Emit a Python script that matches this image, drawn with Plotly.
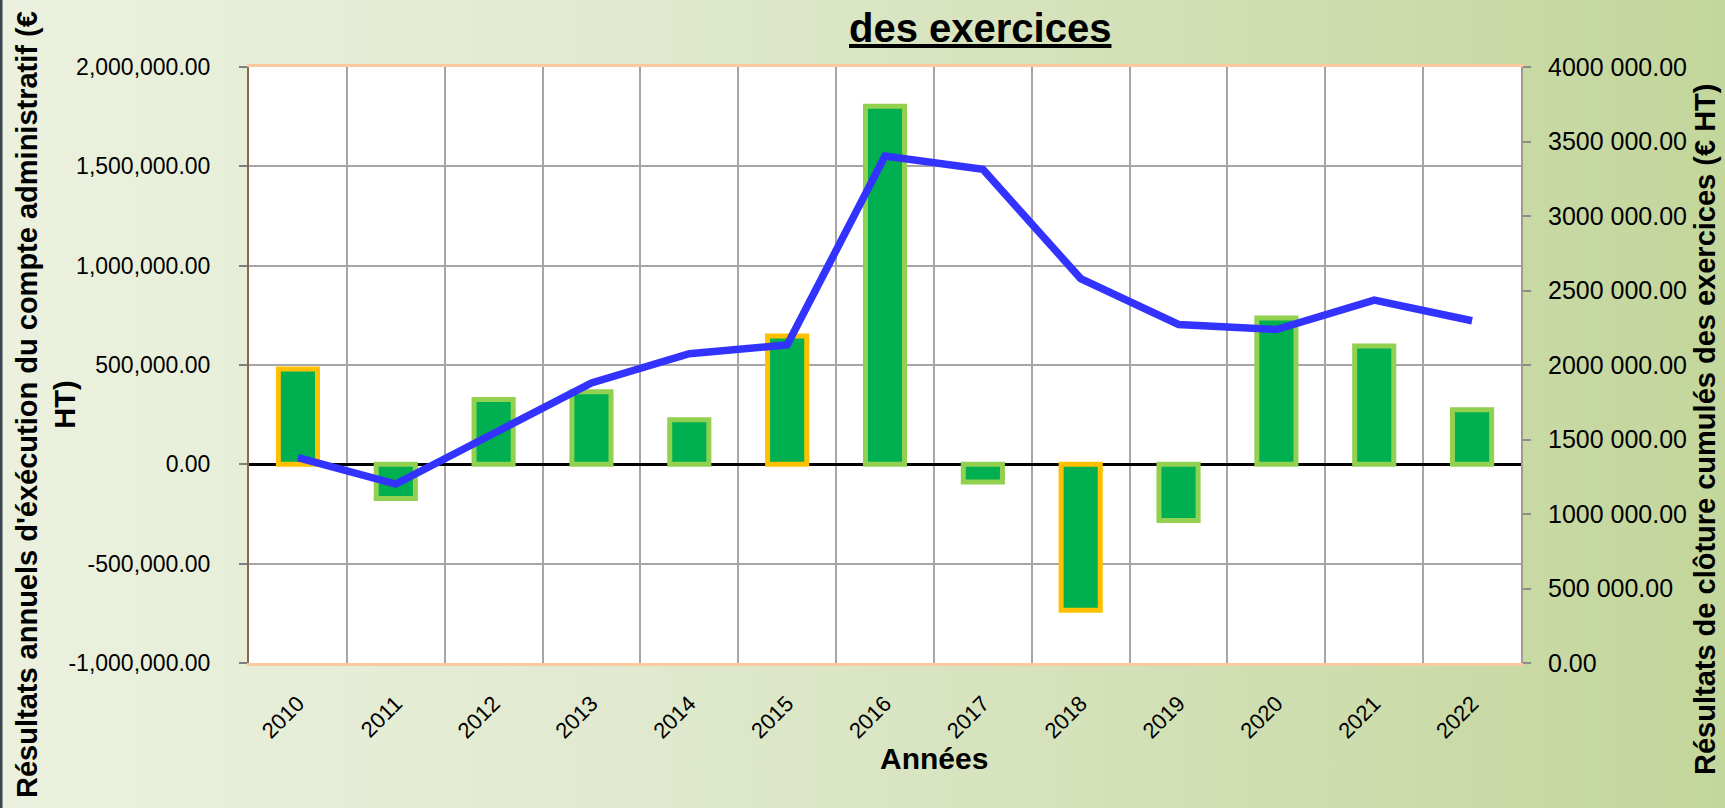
import base64
import plotly.graph_objects as go

# ---------------- data ----------------
years = ["2010", "2011", "2012", "2013", "2014", "2015", "2016",
         "2017", "2018", "2019", "2020", "2021", "2022"]
annual_results = [480000, -172000, 326000, 365000, 224000, 646000, 1803000,
                  -89000, -734000, -283000, 737000, 596000, 275000]
cumulated_results = [1378000, 1201000, 1540000, 1880000, 2076000, 2134000, 3403000,
                     3313000, 2580000, 2272000, 2238000, 2436000, 2297000]
bar_border_colors = ["#FFC000", "#92D050", "#92D050", "#92D050", "#92D050", "#FFC000", "#92D050",
                     "#92D050", "#FFC000", "#92D050", "#92D050", "#92D050", "#92D050"]
left_tick_vals = [-1000000, -500000, 0, 500000, 1000000, 1500000, 2000000]
left_tick_text = [f"{v:,.2f}" for v in left_tick_vals]
right_tick_vals = [0, 500000, 1000000, 1500000, 2000000, 2500000, 3000000, 3500000, 4000000]
right_tick_text = ["0.00" if v == 0 else f"{v // 1000} {v % 1000:03d}.00" for v in right_tick_vals]

title_text = "des exercices"
left_title = "Résultats annuels d'éxécution du compte administratif (€<br>HT)"
right_title = "Résultats de clôture cumulés des exercices (€ HT)"
x_title = "Années"

# ---------------- layout geometry ----------------
W, H = 1725, 808
L, R, T, B = 249, 204, 67, 145
PW, PH = W - L - R, H - T - B

def px_x(x):
    return (x - L) / PW

def px_y(y):
    return (H - B - y) / PH

FONT = "Liberation Sans, Arial, sans-serif"

fig = go.Figure()

fig.add_trace(go.Bar(
    x=years, y=annual_results, width=0.4,
    marker=dict(color="#00B050", line=dict(color=bar_border_colors, width=5)),
    yaxis="y", name="Résultats annuels", showlegend=False,
))
fig.add_trace(go.Scatter(
    x=years, y=cumulated_results, mode="lines",
    line=dict(color="#3333FF", width=7.5),
    yaxis="y2", name="Résultats cumulés", showlegend=False,
))

svg = (f'<svg xmlns="http://www.w3.org/2000/svg" width="{W}" height="{H}" preserveAspectRatio="none">'
       '<defs><linearGradient id="g" x1="0" y1="0" x2="1" y2="0">'
       '<stop offset="0" stop-color="#EBF1DE"/><stop offset="0.35" stop-color="#E1EAD0"/>'
       '<stop offset="1" stop-color="#C3D69B"/></linearGradient></defs>'
       f'<rect width="{W}" height="{H}" fill="url(#g)"/></svg>')
bg_src = "data:image/svg+xml;base64," + base64.b64encode(svg.encode()).decode()

fig.update_layout(
    width=W, height=H,
    margin=dict(l=L, r=R, t=T, b=B, autoexpand=False),
    paper_bgcolor="#E2EBD2",
    plot_bgcolor="white",
    font=dict(family=FONT, color="black"),
    images=[dict(source=bg_src, xref="paper", yref="paper",
                 x=px_x(0), y=px_y(0), sizex=W / PW, sizey=H / PH,
                 xanchor="left", yanchor="top", sizing="stretch", layer="below")],
    xaxis=dict(
        type="category", tickson="boundaries", ticks="",
        showgrid=True, gridcolor="#A6A6A6", gridwidth=1.5,
        showline=True, linecolor="#FCC9A0", linewidth=3, mirror=True,
        tickangle=-45, tickfont=dict(size=22, family=FONT),
        ticklabelstandoff=16,
    ),
    yaxis=dict(
        range=[-1000000, 2000000], tickvals=left_tick_vals, ticktext=left_tick_text,
        showgrid=True, gridcolor="#A6A6A6", gridwidth=1.5,
        zeroline=True, zerolinecolor="black", zerolinewidth=2.5,
        showline=True, linecolor="#8B6A4C", linewidth=2,
        ticks="outside", ticklen=8, tickcolor="#7F7F7F", tickwidth=1.5,
        tickfont=dict(size=23, family=FONT), ticklabelstandoff=24,
    ),
    yaxis2=dict(
        range=[0, 4000000], overlaying="y", side="right",
        tickvals=right_tick_vals, ticktext=right_tick_text,
        showgrid=False, zeroline=False,
        showline=True, linecolor="#A39A8E", linewidth=2,
        ticks="outside", ticklen=8, tickcolor="#8C8C8C", tickwidth=1.5,
        tickfont=dict(size=25, family=FONT), ticklabelstandoff=12,
    ),
    annotations=[
        dict(text=title_text, xref="paper", yref="paper", x=px_x(980), y=px_y(28),
             showarrow=False, xanchor="center", yanchor="middle",
             font=dict(size=40, family=FONT, weight="bold", lineposition="under")),
        dict(text=x_title, xref="paper", yref="paper", x=px_x(934), y=px_y(758),
             showarrow=False, xanchor="center", yanchor="middle",
             font=dict(size=30, family=FONT, weight="bold")),
        dict(text=left_title, xref="paper", yref="paper", x=px_x(46), y=px_y(405),
             showarrow=False, xanchor="center", yanchor="middle", textangle=-90,
             font=dict(size=29, family=FONT, weight="bold")),
        dict(text=right_title, xref="paper", yref="paper", x=px_x(1705), y=px_y(430),
             showarrow=False, xanchor="center", yanchor="middle", textangle=-90,
             font=dict(size=29, family=FONT, weight="bold")),
    ],
    shapes=[
        dict(type="rect", xref="paper", yref="paper", x0=0, x1=1, y0=0, y1=1,
             fillcolor="white", line=dict(width=0), layer="below"),
        dict(type="line", xref="paper", yref="paper", x0=px_x(1), x1=px_x(1),
             y0=px_y(H), y1=px_y(0), line=dict(color="#3B4652", width=3)),
    ],
)

fig.write_html("out.html", config={"displayModeBar": False},
               post_script="document.body.style.margin='0';document.body.style.overflow='hidden';")
